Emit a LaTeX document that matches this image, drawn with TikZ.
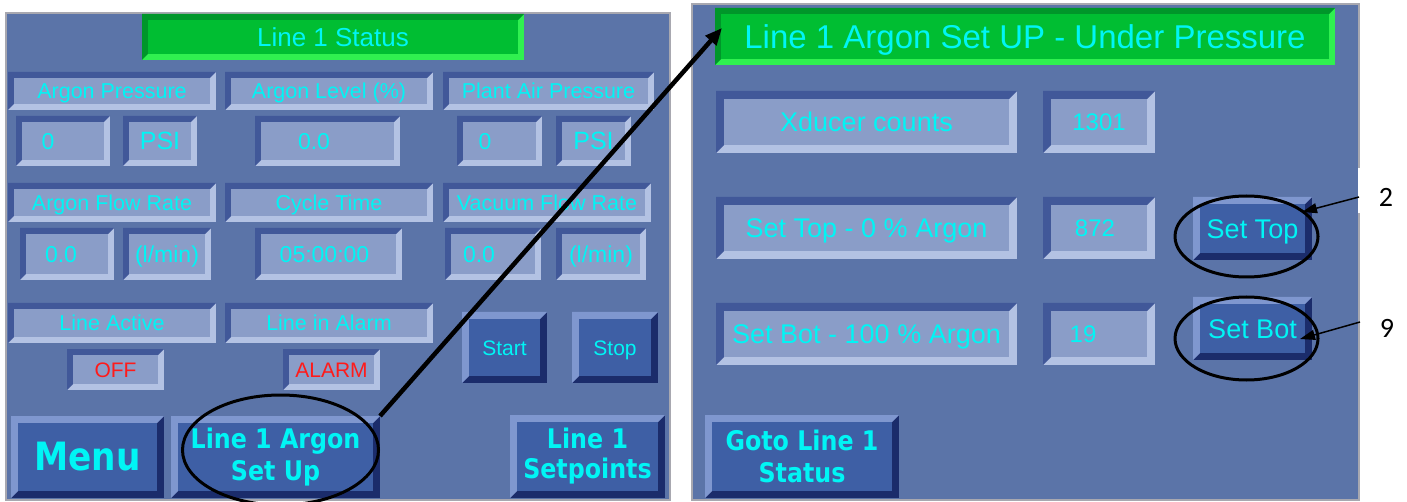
\documentclass[tikz,border=0pt]{standalone}
\usepackage{fontspec}
\usetikzlibrary{shapes.geometric,arrows.meta}
\newfontfamily\hmi{Liberation Sans}
\newfontfamily\btnf[FakeStretch=0.88]{DejaVu Sans}
\newfontfamily\calib{Carlito}
\newcommand\fsz[1]{\fontsize{#1}{#1}\selectfont}
\newcommand\fszb[2]{\fontsize{#1}{#2}\selectfont}
\definecolor{panel}{HTML}{5B74A8}
\definecolor{fieldfill}{HTML}{8A9DC8}
\definecolor{sunkdark}{HTML}{415899}
\definecolor{sunklight}{HTML}{B3C2E3}
\definecolor{btnfill}{HTML}{3E5FA5}
\definecolor{btnlight}{HTML}{7F97CF}
\definecolor{btndark}{HTML}{1B2C6B}
\definecolor{gfill}{HTML}{00BE32}
\definecolor{gdark}{HTML}{00962A}
\definecolor{glight}{HTML}{30F050}
\definecolor{cyantxt}{HTML}{00F5F5}
\definecolor{redtxt}{HTML}{FF1A1A}
\definecolor{edge}{HTML}{A8A8B0}
\tikzset{
  bev/.style n args={4}{fill=#4, path picture={
    \fill[#3] (path picture bounding box.south west) rectangle (path picture bounding box.north east);
    \fill[#2] (path picture bounding box.south west) -- (path picture bounding box.north west)
      -- (path picture bounding box.north east) -- ([xshift=-#1,yshift=-#1]path picture bounding box.north east)
      -- ([xshift=#1,yshift=-#1]path picture bounding box.north west) -- ([xshift=#1,yshift=#1]path picture bounding box.south west) -- cycle;
    \fill[#4] ([xshift=#1,yshift=-#1]path picture bounding box.north west) rectangle ([xshift=-#1,yshift=#1]path picture bounding box.south east);
  }},
  wh/.style 2 args={minimum width=#1, minimum height=#2},
  hm/.style 2 args={font=\hmi\fsz{#1}, text height=#2, text depth=0pt},
  fld/.style={bev={6pt}{sunkdark}{sunklight}{fieldfill}, text=cyantxt, inner sep=0pt, outer sep=0pt, hm={21.5}{15.5pt}},
  val/.style={fld, hm={23}{16.6pt}},
  fldR/.style={bev={8pt}{sunkdark}{sunklight}{fieldfill}, text=cyantxt, inner sep=0pt, outer sep=0pt, hm={27}{19.4pt}},
  valR/.style={fldR, hm={24}{17.3pt}},
  btn/.style={bev={7pt}{btnlight}{btndark}{btnfill}, text=cyantxt, inner sep=0pt, outer sep=0pt, align=center},
  bigbtn/.style={btn, font=\btnf\bfseries\fszb{27}{32}},
  gttl/.style={bev={6pt}{gdark}{glight}{gfill}, text=cyantxt, inner sep=0pt, outer sep=0pt},
  ring/.style={ellipse, draw=black, line width=3pt, inner sep=0pt},
  bigarrow/.style={draw=black, line width=4.5pt, -{Triangle[length=17pt,width=14pt]}},
  smallarrow/.style={draw=black, line width=1.5pt, -{Triangle[length=15pt,width=10pt]}},
  callout/.style={font=\calib\fsz{28}, text=black, inner sep=0pt},
}
\begin{document}
\begin{tikzpicture}[x=1pt,y=-1pt]
\useasboundingbox[fill=white] (0,0) rectangle (1407,502);
% panels
\fill[panel] (6,13) rectangle (670,500);
\draw[edge, line width=1.5pt] (6,13) rectangle (670,500);
\fill[panel] (692,4) rectangle (1359,500);
\draw[edge, line width=1.5pt] (692,4) rectangle (1359,500);

% ----- left panel -----
\node[gttl, wh={382}{46}, hm={26}{18.7pt}] (ttl1) at (333,37) {Line 1 Status};

\node[fld, wh={208}{38}] (ap)  at (112,91)   {Argon Pressure};
\node[fld, wh={208}{38}] (al)  at (329,91)   {Argon Level (\%)};
\node[fld, wh={211}{38}] (pap) at (548.5,91) {Plant Air Pressure};

\node[val, wh={94}{50}]  (v1) at (63,141)    {0\kern30pt};
\node[val, wh={74}{50}, hm={25}{18pt}]  (u1) at (160,141)   {PSI};
\node[val, wh={145}{50}] (v2) at (327.5,141) {0.0\kern27pt};
\node[val, wh={85}{50}]  (v3) at (499.5,141) {0\kern29pt};
\node[val, wh={75}{50}, hm={25}{18pt}]  (u3) at (593.5,141) {PSI};

\node[fld, wh={208}{39}] (afr) at (112,202.5) {Argon Flow Rate};
\node[fld, wh={208}{39}] (ct)  at (329,202.5) {Cycle Time};
\node[fld, wh={208}{39}] (vfr) at (547,202.5) {Vacuum Flow Rate};

\node[val, wh={94}{52}]  (v4) at (67,254)    {0.0\kern12pt};
\node[val, wh={88}{52}]  (u4) at (167,254)   {(l/min)};
\node[val, wh={147}{52}] (v5) at (328.5,254) {05:00:00\kern8pt};
\node[val, wh={96}{52}]  (v6) at (493,254)   {0.0\kern28pt};
\node[val, wh={90}{52}]  (u6) at (601,254)   {(l/min)};

\node[fld, wh={208}{40}] (la)  at (112,323) {Line Active};
\node[fld, wh={208}{40}] (lia) at (329,323) {Line in Alarm};

\node[fld, wh={97}{41}, text=redtxt, hm={21}{15.1pt}] (off)   at (115.5,369.5) {OFF};
\node[fld, wh={97}{41}, text=redtxt, hm={21}{15.1pt}] (alarm) at (331.5,369.5) {ALARM};

\node[btn, wh={85}{71}, hm={21}{15.1pt}] (start) at (504.5,347.5) {Start};
\node[btn, wh={86}{71}, hm={21}{15.1pt}] (stop)  at (615,347.5)   {Stop};

\node[btn, wh={153}{82}, font=\btnf\bfseries\fsz{39}] (menu) at (87.5,457) {Menu};
\node[bigbtn, wh={209}{82}] (setup) at (275.5,457) {Line 1 Argon\\Set Up};
\node[bigbtn, wh={155}{83}, font=\btnf\bfseries\fszb{27}{30}] (setpts) at (587.5,456.5) {Line 1\\Setpoints};

% ----- right panel -----
\node[gttl, wh={620}{57}, hm={33}{23.8pt}] (ttl2) at (1025,36.5) {Line 1 Argon Set UP - Under Pressure};

\node[fldR, wh={301}{62}] (xc)    at (866.5,122) {Xducer counts};
\node[valR, wh={112}{62}] (xcv)   at (1099,122)  {1301};
\node[fldR, wh={301}{62}] (stl)   at (866.5,228) {Set Top - 0 \% Argon};
\node[valR, wh={112}{62}] (stv)   at (1099,228)  {872\kern8pt};
\node[fldR, wh={301}{62}] (sbl)   at (866.5,334) {Set Bot - 100 \% Argon};
\node[valR, wh={112}{62}] (sbv)   at (1099,334)  {19\kern32pt};

\node[btn, wh={119}{63}, hm={27}{19.4pt}] (settop) at (1252.5,228.5) {Set Top};
\node[btn, wh={119}{63}, hm={27}{19.4pt}] (setbot) at (1252.5,328.5) {Set Bot};

\node[bigbtn, wh={194}{83}] (goto) at (802,456.5) {Goto Line 1\\Status};

% ----- annotations -----
\node[ring, minimum width=196pt, minimum height=110pt] (e1) at (280.5,450) {};
\node[ring, minimum width=143pt, minimum height=81pt]  (e2) at (1246.5,236.5) {};
\node[ring, minimum width=143pt, minimum height=83pt]  (e3) at (1246.5,338.5) {};

\coordinate (t2tip) at (722,28);
\draw[bigarrow] (setup.north east) -- (t2tip);

\fill[white] (1358,168) rectangle (1407,213);
\node[callout] (n2) at (1386,197) {2};
\node[callout] (n9) at (1387,328) {9};
\coordinate (a2s) at (1359,197);
\coordinate (a2e) at (1302,212);
\coordinate (a9s) at (1360,322);
\coordinate (a9e) at (1300,339);
\draw[smallarrow] (a2s) -- (a2e);
\draw[smallarrow] (a9s) -- (a9e);
\end{tikzpicture}
\end{document}
